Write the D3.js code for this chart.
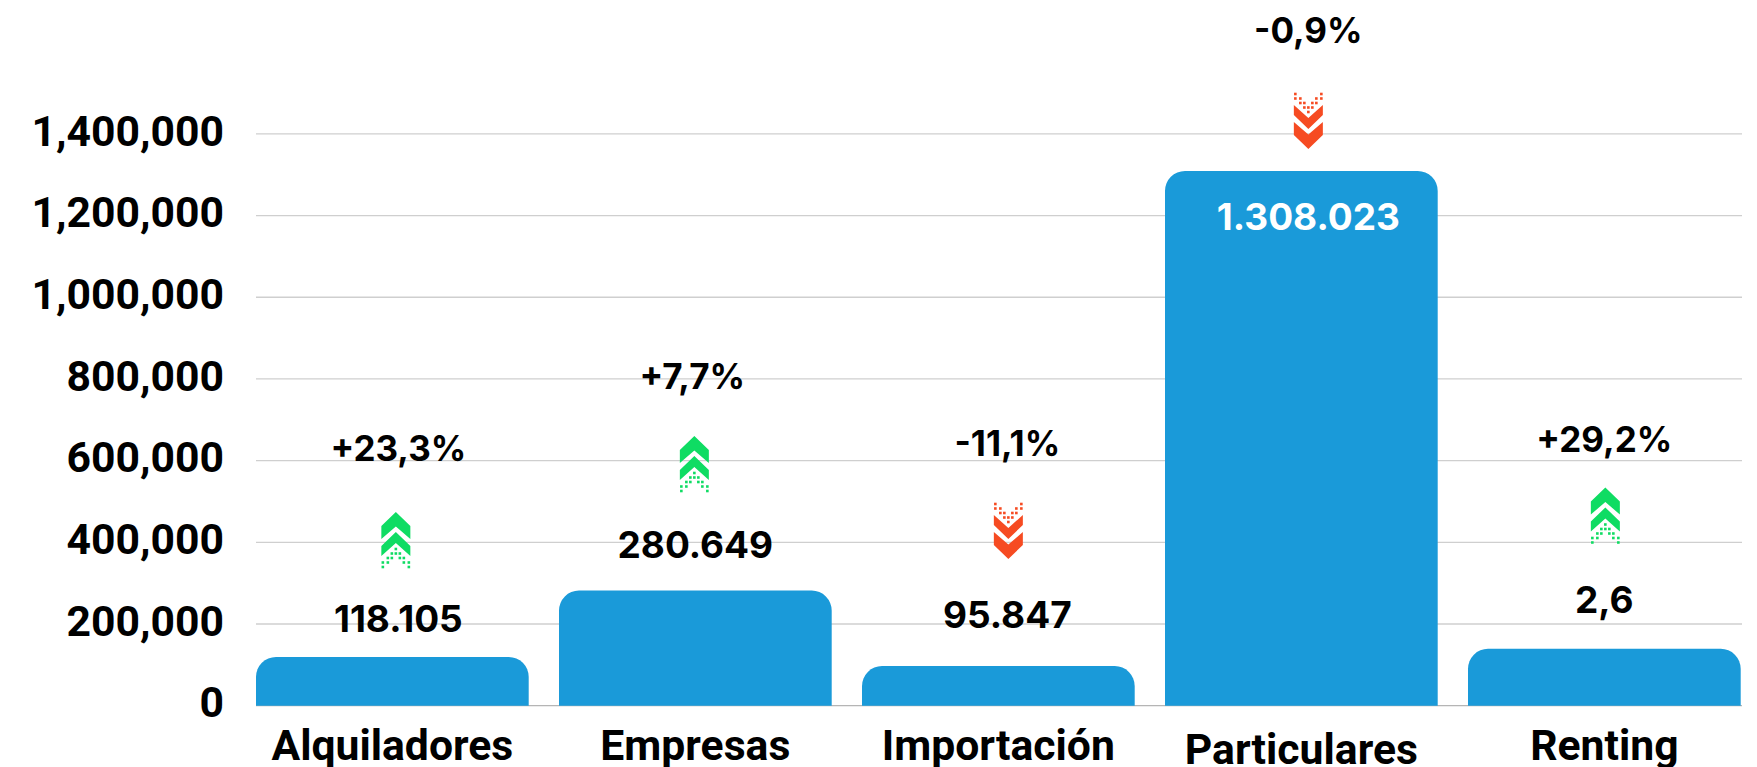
<!DOCTYPE html>
<html><head><meta charset="utf-8">
<script src="https://cdn.jsdelivr.net/npm/d3@7"></script>
<style>html,body{margin:0;padding:0;background:#fff}svg{display:block}
.tick text,.cat{font-family:Roboto,sans-serif;font-weight:700;fill:#000}
.val,.chg{font-family:Inter,sans-serif;font-weight:700;fill:#000}
</style></head><body><svg id="c" width="1757" height="767"></svg>
<script>
const categories=["Alquiladores","Empresas","Importación","Particulares","Renting"];
const values=[118105,280649,95847,1308023,138000];
const valueLabels=["118.105","280.649","95.847","1.308.023","2,6"];
const changeLabels=["+23,3%","+7,7%","-11,1%","-0,9%","+29,2%"];
const directions=[1,1,-1,-1,1];
const yTicks=[0,200000,400000,600000,800000,1000000,1200000,1400000];
// layout annotations (pixel placement of free-floating labels)
const valueLabelXOff=[6,0,9,7,0], valueLabelY=[618.5,544.5,615,217,599.5];
const changeLabelXOff=[6,-3,9,7,0], changeLabelY=[448,376.5,443.7,30,439];
const arrowXOff=[3.5,-1,10,7,1], arrowTop=[512,436,503,93,487.5];
const catY=[745,745,745,748.5,745];

const svg=d3.select("#c");
const x=d3.scaleBand().domain(categories).range([256,1740.7]).paddingInner(0.1).paddingOuter(0);
const bw=x.bandwidth();
const y=d3.scaleLinear().domain([0,1400000]).range([705.2,133.4]);

const ax=svg.append("g").attr("transform","translate(256,0)").call(
  d3.axisLeft(y).tickValues(yTicks).tickFormat(d3.format(",")).tickSize(-1486).tickPadding(32));
ax.select(".domain").remove();
ax.selectAll("line").attr("stroke",d=>d===0?"#b5b5b5":"#cfcfcf").attr("stroke-width",1.3);
ax.selectAll("text").style("font-size","42.7px").attr("dy","0.275em");

const r=20;
svg.selectAll(".bar").data(values).join("path").attr("class","bar").attr("fill","#1a9ad9")
 .attr("d",(d,i)=>{const a=x(categories[i]),b=a+bw,t=y(d),z=y(0)+0.6;
   return `M${a},${z}V${t+r}A${r},${r} 0 0 1 ${a+r},${t}H${b-r}A${r},${r} 0 0 1 ${b},${t+r}V${z}Z`;});

svg.selectAll(".cat").data(categories).join("text").attr("class","cat")
 .attr("x",d=>x(d)+bw/2).attr("y",(d,i)=>catY[i]).attr("dy","0.36em").attr("text-anchor","middle")
 .style("font-size","42.7px").text(d=>d);

svg.selectAll(".val").data(valueLabels).join("text").attr("class","val")
 .attr("x",(d,i)=>x(categories[i])+bw/2+valueLabelXOff[i]).attr("y",(d,i)=>valueLabelY[i]).attr("dy","0.36em")
 .attr("text-anchor","middle").style("font-size","37px").style("fill",(d,i)=>i===3?"#fff":"#000").text(d=>d);

svg.selectAll(".chg").data(changeLabels).join("text").attr("class","chg")
 .attr("x",(d,i)=>x(categories[i])+bw/2+changeLabelXOff[i]).attr("y",(d,i)=>changeLabelY[i]).attr("dy","0.36em")
 .attr("text-anchor","middle").style("font-size","35px").text(d=>d);

// arrow glyph, drawn pointing up in a 29x56 box centred on x=0
const chevrons="M-14.5,14L0,0L14.5,14V27L0,14.5L-14.5,27Z M-14.5,34L0,20L14.5,34V44L0,31L-14.5,44Z";
const dotRows=[[37,[0]],[41.5,[-4,0,4]],[46,[-8,-4,4,8]],[50.5,[-13,-8,8,13]],[55,[-13,13]]];
directions.forEach((dir,i)=>{
  const cx=x(categories[i])+bw/2+arrowXOff[i], col=dir>0?"#0fdc63":"#f64b22";
  const g=svg.append("g").attr("transform",dir>0?`translate(${cx},${arrowTop[i]})`:`translate(${cx},${arrowTop[i]+56}) scale(1,-1)`);
  g.append("path").attr("d",chevrons).attr("fill",col);
  dotRows.forEach(([dy,xs])=>xs.forEach(dx=>g.append("rect").attr("x",dx-1.3).attr("y",dy-1.3).attr("width",2.6).attr("height",2.6).attr("fill",col)));
});
</script></body></html>
